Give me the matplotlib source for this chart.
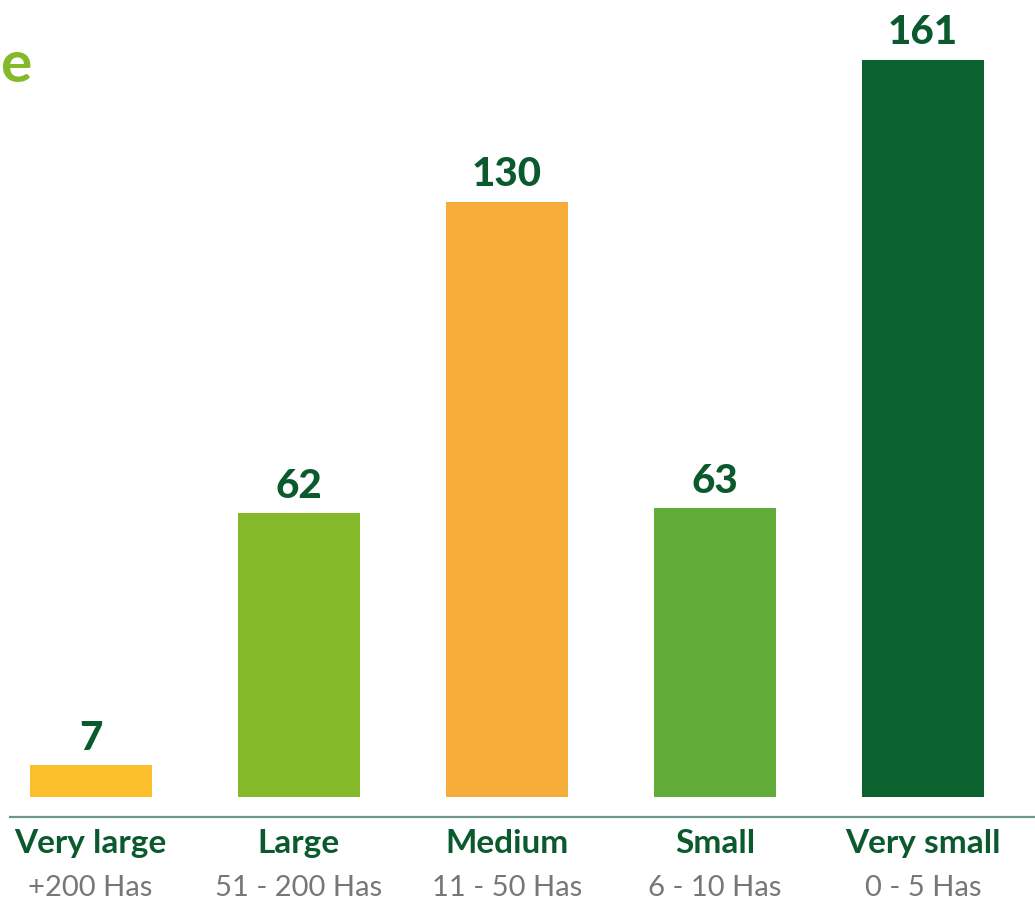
import matplotlib
matplotlib.use("Agg")
import matplotlib.pyplot as plt
from matplotlib.transforms import blended_transform_factory

categories = ["Very large", "Large", "Medium", "Small", "Very small"]
ranges = ["+200 Has", "51 - 200 Has", "11 - 50 Has", "6 - 10 Has", "0 - 5 Has"]
values = [7, 62, 130, 63, 161]
colors = ["#FBBF2B", "#84BA2A", "#F6AD3A", "#62AD3A", "#0B622F"]

DARK = "#0B5A2E"
W, H = 1035, 905
fig = plt.figure(figsize=(W / 100, H / 100), dpi=100)
ax = fig.add_axes([0, (H - 817) / H, 1, 817 / H])

x = list(range(len(categories)))
ax.bar(x, values, width=0.586, color=colors)
ax.set_xlim(-0.4354, 4.538)
ybot = -20 / 4.58
ax.set_ylim(ybot, 797 / 4.58)
for s in ax.spines.values():
    s.set_visible(False)
ax.set_xticks([])
ax.set_yticks([])
ax.axhline(ybot, xmin=10 / W, xmax=1, color="#6E998A", lw=1.6, clip_on=False)

for xi, v in zip(x, values):
    ax.annotate(str(v), (xi, v), xytext=(0, 6), textcoords="offset points",
                ha="center", va="bottom", fontsize=29, fontweight="black",
                family="Lato", color=DARK)

tr = blended_transform_factory(ax.transData, fig.transFigure)
for xi, c, r in zip(x, categories, ranges):
    ax.text(xi, 1 - 843 / H, c, transform=tr, ha="center", va="center",
            fontsize=24, fontweight="bold", family="Lato", color=DARK)
    ax.text(xi, 1 - 888 / H, r, transform=tr, ha="center", va="center",
            fontsize=21, fontweight="normal", family="Lato", color="#777777")

fig.text(0.0, 1 - 66 / H, "e", ha="left", va="center", fontsize=42,
         fontweight="bold", family="Lato", color="#84BA2A")

fig.savefig("out.png", dpi=100)
